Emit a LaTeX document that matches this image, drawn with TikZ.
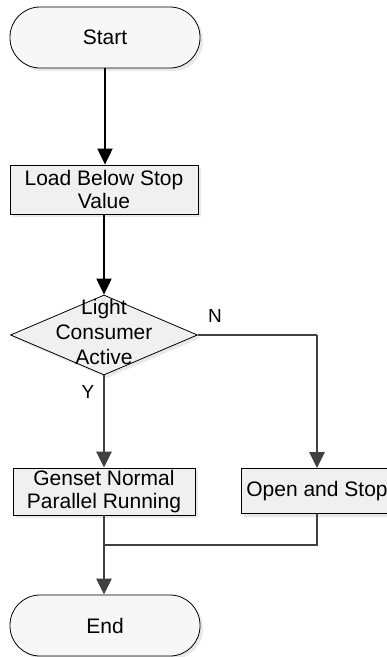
\documentclass[tikz,border=0pt]{standalone}
\usepackage{fontspec}
\setmainfont{Liberation Sans}
\usetikzlibrary{shapes.geometric,arrows.meta,shadows}
\begin{document}
\begin{tikzpicture}[x=1pt,y=1pt,
  txt/.style={font=\fontsize{21}{23}\selectfont, align=center, text=black},
  shd/.style={drop shadow={opacity=0.18, shadow xshift=3pt, shadow yshift=-3pt}},
  term/.style={draw=black, line width=0.8pt, rectangle, rounded corners=30pt, fill=black!3, shd, txt, inner sep=0pt},
  procbox/.style={draw=black, line width=0.8pt, rectangle, fill=black!6, shd, txt, inner sep=0pt},
  decis/.style={draw=black, line width=0.8pt, diamond, fill=black!6, shd, inner sep=0pt},
  arrA/.style={draw=black, line width=2pt, -{Triangle[length=16pt,width=15pt]}},
  arrB/.style={draw=black!75, line width=2.4pt, -{Triangle[length=16pt,width=15pt]}},
  lineB/.style={draw=black!75, line width=2.4pt},
  lbl/.style={font=\fontsize{19}{20}\selectfont, text=black}
]
\useasboundingbox (0,0) rectangle (387,-657);
\node[term, minimum width=190pt, minimum height=61pt] (start) at (105,-37.5) {Start};
\node[procbox, minimum width=188pt, minimum height=49pt] (load) at (104,-189.5) {Load Below Stop\\Value};
\node[decis, minimum width=187pt, minimum height=80pt] (dec) at (104,-335) {};
\node[txt, font=\fontsize{21}{25}\selectfont] (dectext) at (104,-332) {Light\\Consumer\\Active};
\node[procbox, minimum width=182pt, minimum height=47pt] (genset) at (104,-491.5) {Genset Normal\\Parallel Running};
\node[procbox, minimum width=152pt, minimum height=45pt] (openstop) at (317,-491) {Open and Stop};
\node[term, minimum width=190pt, minimum height=61pt] (end) at (105,-625.5) {End};
\node[lbl] (nlbl) at (215,-316) {N};
\node[lbl] (ylbl) at (88,-392) {Y};
\coordinate (m1) at (104,-545);
\coordinate (m2) at (317,-545);
\coordinate (nc) at (317,-335);

\draw[arrA] (start.south) -- (start.south |- load.north);
\draw[arrA] (load.south) -- (dec.north);
\draw[arrB] (dec.south) -- (genset.north);
\draw[lineB] (dec.east) -- (nc);
\draw[arrB] (nc) -- (openstop.north);
\draw[lineB] (genset.south) -- (m1);
\draw[lineB] (openstop.south) -- (m2) -- (m1);
\draw[arrB] (m1) -- (m1 |- end.north);
\end{tikzpicture}
\end{document}
